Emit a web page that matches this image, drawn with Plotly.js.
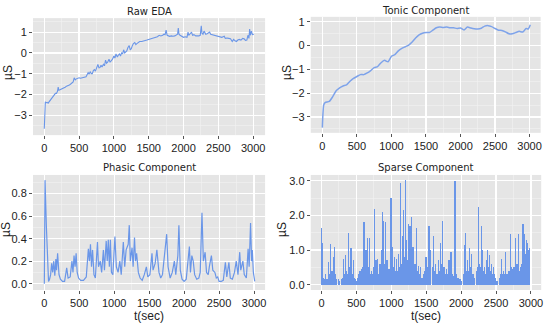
<!DOCTYPE html>
<html><head><meta charset="utf-8">
<script src="https://cdn.plot.ly/plotly-3.0.1.min.js"></script>
<style>html,body{margin:0;padding:0;background:#fff}#chart{width:550px;height:324px}</style>
</head><body><div id="chart"></div>
<script>
// ---- data ----
const rawT = [0,8,15,25,40,55,70,85,100,115,130,145,160,175,190,200,210,225,245,260,280,300,320,340,360,380,400,415,430,445,460,480,500,520,540,560,580,600,615,630,645,660,675,690,705,720,735,750,770,785,800,815,830,850,865,880,895,910,930,945,960,980,1000,1015,1030,1050,1065,1080,1095,1110,1125,1140,1155,1170,1185,1200,1220,1235,1250,1265,1280,1300,1315,1330,1350,1370,1400,1420,1450,1475,1500,1525,1550,1575,1600,1625,1650,1675,1700,1720,1735,1750,1765,1780,1800,1825,1850,1875,1900,1915,1925,1935,1950,1975,2000,2025,2050,2065,2075,2090,2105,2115,2130,2150,2175,2200,2220,2240,2255,2265,2280,2295,2305,2320,2340,2360,2375,2390,2410,2430,2450,2475,2500,2525,2550,2570,2585,2600,2625,2650,2675,2700,2720,2740,2760,2780,2800,2825,2850,2870,2890,2910,2925,2940,2950,2960,2975,2990,3010];
const rawV = [-3.65,-2.6,-2.35,-2.4,-2.38,-2.42,-2.35,-2.3,-2.25,-2.2,-2.1,-2.05,-1.95,-1.95,-1.85,-1.65,-1.8,-1.78,-1.75,-1.72,-1.7,-1.65,-1.6,-1.58,-1.55,-1.5,-1.45,-1.4,-1.2,-1.3,-1.25,-1.22,-1.2,-1.22,-1.2,-1.18,-1.15,-1.15,-1.05,-0.95,-1.02,-0.9,-1.0,-1.0,-0.85,-0.8,-0.88,-0.75,-0.55,-0.72,-0.7,-0.6,-0.68,-0.55,-0.62,-0.35,-0.5,-0.45,-0.3,-0.45,-0.4,-0.3,-0.15,-0.25,-0.05,-0.2,-0.1,-0.05,-0.15,0.0,-0.05,0.15,0.0,0.05,0.1,0.25,0.35,0.15,0.2,0.35,0.45,0.5,0.4,0.45,0.5,0.55,0.55,0.58,0.6,0.62,0.65,0.66,0.7,0.72,0.75,0.78,0.85,0.82,0.85,0.9,0.88,1.1,0.85,0.82,0.8,0.82,0.8,0.82,0.85,0.9,1.2,0.9,0.85,0.8,0.75,0.78,0.75,1.0,0.85,0.9,0.95,1.0,0.85,0.88,0.82,0.8,0.82,0.85,1.3,0.95,0.9,1.05,0.95,0.9,0.92,0.95,1.0,0.9,0.88,0.85,0.85,0.82,0.8,0.78,0.75,0.78,0.8,0.7,0.72,0.7,0.68,0.55,0.65,0.58,0.55,0.62,0.65,0.62,0.7,0.68,0.6,0.62,0.85,0.7,1.15,0.85,1.05,0.88,0.9];

const tonicT = [0,20,40,100,150,200,250,300,350,400,450,500,550,600,650,700,750,800,850,900,950,1000,1050,1100,1150,1200,1250,1300,1350,1400,1450,1500,1550,1600,1650,1700,1750,1800,1850,1900,1950,2000,2050,2100,2150,2200,2250,2300,2350,2400,2450,2500,2550,2600,2650,2700,2750,2800,2850,2900,2950,2980,3010];
const tonicV = [-3.45,-2.5,-2.4,-2.35,-2.15,-1.9,-1.78,-1.7,-1.65,-1.5,-1.38,-1.3,-1.22,-1.22,-1.15,-1.05,-0.93,-0.88,-0.72,-0.62,-0.68,-0.45,-0.38,-0.22,-0.12,-0.05,0.02,0.15,0.32,0.45,0.52,0.55,0.55,0.65,0.75,0.78,0.76,0.78,0.75,0.75,0.72,0.74,0.66,0.78,0.74,0.71,0.7,0.73,0.82,0.84,0.8,0.72,0.65,0.64,0.58,0.5,0.5,0.55,0.6,0.57,0.72,0.7,0.88];

const phasicT = [0,10,30,50,60,75,90,105,120,135,150,165,175,190,210,230,260,290,320,340,370,395,410,425,440,455,470,490,520,560,600,630,645,660,675,690,710,730,760,775,800,820,845,860,885,900,915,930,945,960,980,1010,1030,1055,1080,1100,1130,1150,1170,1200,1215,1230,1255,1270,1290,1305,1320,1345,1370,1400,1430,1460,1480,1510,1540,1555,1585,1610,1640,1665,1690,1710,1730,1750,1770,1800,1830,1860,1880,1910,1925,1945,1970,2000,2030,2060,2075,2090,2110,2130,2150,2180,2210,2230,2255,2275,2300,2320,2345,2360,2390,2410,2440,2460,2480,2500,2530,2560,2590,2610,2640,2660,2690,2720,2745,2770,2795,2810,2840,2860,2890,2915,2930,2950,2965,2975,2990,3010];
const phasicV = [0.0,0.92,0.5,0.05,0.02,0.04,0.08,0.18,0.1,0.2,0.07,0.22,0.12,0.27,0.08,0.04,0.02,0.02,0.14,0.05,0.06,0.2,0.1,0.25,0.15,0.27,0.1,0.05,0.03,0.03,0.06,0.31,0.2,0.35,0.15,0.3,0.08,0.05,0.37,0.15,0.2,0.1,0.3,0.12,0.38,0.2,0.39,0.15,0.39,0.1,0.08,0.42,0.15,0.1,0.2,0.08,0.37,0.15,0.3,0.35,0.52,0.2,0.32,0.15,0.41,0.2,0.27,0.1,0.05,0.03,0.08,0.15,0.06,0.08,0.27,0.12,0.18,0.3,0.1,0.05,0.08,0.2,0.3,0.44,0.15,0.05,0.1,0.2,0.08,0.25,0.52,0.12,0.04,0.02,0.04,0.28,0.33,0.1,0.25,0.2,0.08,0.04,0.05,0.1,0.63,0.2,0.28,0.1,0.08,0.15,0.25,0.12,0.1,0.05,0.06,0.02,0.02,0.03,0.19,0.06,0.19,0.05,0.04,0.1,0.2,0.08,0.28,0.12,0.2,0.08,0.05,0.31,0.15,0.54,0.2,0.3,0.1,0.02];

const sparseT = [0,8,16,30,45,60,80,96,110,122,134,150,167,182,190,205,220,240,260,285,298,311,325,344,360,372,383,395,410,421,440,455,470,487,502,516,530,550,562,574,590,608,620,636,645,655,670,689,705,718,730,740,756,768,780,792,804,820,837,850,861,870,880,890,900,914,925,938,952,966,980,995,1005,1014,1028,1043,1060,1076,1088,1100,1118,1134,1145,1158,1172,1185,1200,1215,1230,1244,1256,1268,1280,1292,1311,1325,1340,1359,1372,1388,1405,1421,1440,1459,1478,1498,1520,1541,1553,1565,1585,1603,1620,1636,1655,1675,1692,1708,1720,1732,1746,1760,1778,1794,1810,1828,1842,1856,1868,1880,1898,1914,1925,1937,1950,1961,1985,2009,2030,2048,2058,2067,2080,2096,2105,2115,2130,2144,2160,2177,2195,2215,2230,2244,2258,2270,2287,2296,2306,2320,2335,2350,2364,2383,2392,2402,2415,2431,2445,2464,2476,2488,2505,2526,2550,2562,2574,2588,2603,2618,2632,2648,2665,2685,2697,2708,2722,2737,2756,2775,2787,2799,2812,2823,2835,2847,2865,2885,2900,2910,2919,2933,2945,2952,2967,2976];
const sparseV = [1.65,1.2,0.6,0.2,0.15,0.3,0.15,0.65,0.25,0.3,1.18,0.4,0.8,1.0,1.1,0.3,0.15,0.15,0.12,0.15,0.2,0.75,0.3,0.85,0.4,0.3,1.5,0.5,0.6,1.05,0.3,0.7,0.2,0.15,0.1,0.2,0.3,0.4,0.3,0.45,0.5,1.8,0.6,1.0,0.5,1.35,0.5,1.35,0.3,0.4,0.3,0.5,2.2,0.5,0.7,0.4,0.75,0.3,0.6,0.4,1.0,2.1,0.8,1.85,0.6,1.8,0.5,0.7,0.3,0.45,0.4,2.5,0.6,1.1,0.5,0.8,0.4,0.75,0.4,0.9,0.5,2.95,0.6,1.4,2.15,0.8,3.02,1.3,0.7,1.75,0.6,1.7,0.8,1.95,1.1,0.4,0.6,1.65,0.4,0.55,0.3,0.5,0.2,0.3,0.4,0.8,0.5,1.7,0.6,1.0,0.5,1.4,0.4,0.6,0.3,0.7,0.4,1.2,0.6,1.85,0.5,0.5,0.3,0.45,0.3,0.7,0.4,0.95,0.2,0.3,0.25,3.0,0.3,0.25,0.2,0.2,0.15,0.1,0.3,1.15,0.5,1.5,0.4,0.7,0.4,1.05,0.5,0.9,0.3,0.3,0.2,0.4,0.5,2.25,0.6,0.5,1.7,0.5,1.0,0.4,0.5,0.3,0.7,1.0,0.5,0.85,0.4,0.6,0.3,0.5,0.3,0.2,0.1,0.1,0.2,0.3,0.75,0.3,0.4,0.3,0.95,0.3,0.3,0.4,0.3,1.45,0.5,0.45,0.5,1.35,0.5,0.6,0.5,1.45,0.4,0.5,0.6,1.75,1.45,0.6,0.9,1.3,0.7,1.2,1.0,1.05];

const xTicks = [0,500,1000,1500,2000,2500,3000];
const titles = ["Raw EDA","Tonic Component","Phasic Component","Sparse Component"];

// ---- chart ----
const blue = '#6a96e8';
const tickFont = {family:'Liberation Sans, Arial, sans-serif', size:11, color:'#222'};
function xa(domain, range, anchor){
  return {domain, range, anchor, tickvals:xTicks, ticks:'outside', ticklen:3, tickcolor:'#555',
    showgrid:true, gridcolor:'#ffffff', gridwidth:1.2,
    minor:{dtick:250, tick0:0, showgrid:true, gridcolor:'#f2f2f2', gridwidth:0.6},
    zeroline:false, showline:false, tickfont:tickFont};
}
function ya(domain, range, anchor, dtick, fmt){
  return {domain, range, anchor, dtick, tick0:0, tickformat:fmt, ticks:'outside', ticklen:3, tickcolor:'#555',
    showgrid:true, gridcolor:'#ffffff', gridwidth:1.2,
    minor:{dtick:dtick/2, showgrid:true, gridcolor:'#f2f2f2', gridwidth:0.6},
    zeroline:false, showline:false, tickfont:tickFont};
}

const data = [
  {x:rawT, y:rawV, type:'scatter', mode:'lines', line:{color:blue, width:1.1}, xaxis:'x', yaxis:'y'},
  {x:tonicT, y:tonicV, type:'scatter', mode:'lines', line:{color:'#7ea3ea', width:1.5, shape:'spline', smoothing:0.6}, xaxis:'x2', yaxis:'y2'},
  {x:phasicT, y:phasicV, type:'scatter', mode:'lines', line:{color:blue, width:1.2}, xaxis:'x3', yaxis:'y3'},
  {x:sparseT, y:sparseV, type:'bar', width:18, marker:{color:blue, line:{width:0}}, xaxis:'x4', yaxis:'y4'}
];

const dL = [0.06,0.482], dR = [0.565,0.983];
const dB = [0.105,0.46];
function ann(text, x, y, size, family, angle){
  return {text, x, y, xref:'paper', yref:'paper', xanchor:'center', yanchor:'middle', showarrow:false,
    textangle:angle||0, borderpad:0, font:{family, size, color:'#222'}};
}
const sans = 'Liberation Sans, Arial, sans-serif', dv = 'DejaVu Sans, sans-serif';
const layout = {
  width:550, height:324, margin:{l:0,r:0,t:0,b:0},
  paper_bgcolor:'#ffffff', plot_bgcolor:'#e5e5e5', showlegend:false, bargap:0,
  xaxis: xa(dL, [-162,3172], 'y'),
  yaxis: ya([0.583,0.944], [-3.96,1.675], 'x', 1, 'd'),
  xaxis2: xa(dR, [-168,3160], 'y2'),
  yaxis2: ya([0.590,0.948], [-3.67,1.21], 'x2', 1, 'd'),
  xaxis3: xa(dL, [-162,3158], 'y3'),
  yaxis3: ya(dB, [-0.056,0.966], 'x3', 0.2, '.1f'),
  xaxis4: xa([0.565,0.984], [-154,3147], 'y4'),
  yaxis4: ya(dB, [-0.153,3.17], 'x4', 1, '.1f'),
  annotations: [
    ann(titles[0], (dL[0]+dL[1])/2, 1-12/324, 10, dv),
    ann(titles[1], (dR[0]+dR[1])/2, 1-10/324, 10, dv),
    ann(titles[2], (dL[0]+dL[1])/2, 1-167/324, 10, dv),
    ann(titles[3], (dR[0]+dR[1])/2, 1-167/324, 10, dv),
    ann('µS', 8/550, 1-73/324, 12, sans, -90),
    ann('µS', 287/550, 1-73/324, 12, sans, -90),
    ann('µS', 6/550, 1-230/324, 12, sans, -90),
    ann('µS', 282/550, 1-230/324, 12, sans, -90),
    ann('t(sec)', (dL[0]+dL[1])/2, 1-316/324, 12, sans),
    ann('t(sec)', (dR[0]+dR[1])/2, 1-316/324, 12, sans)
  ]
};
Plotly.newPlot('chart', data, layout, {staticPlot:true, displayModeBar:false});
</script></body></html>
